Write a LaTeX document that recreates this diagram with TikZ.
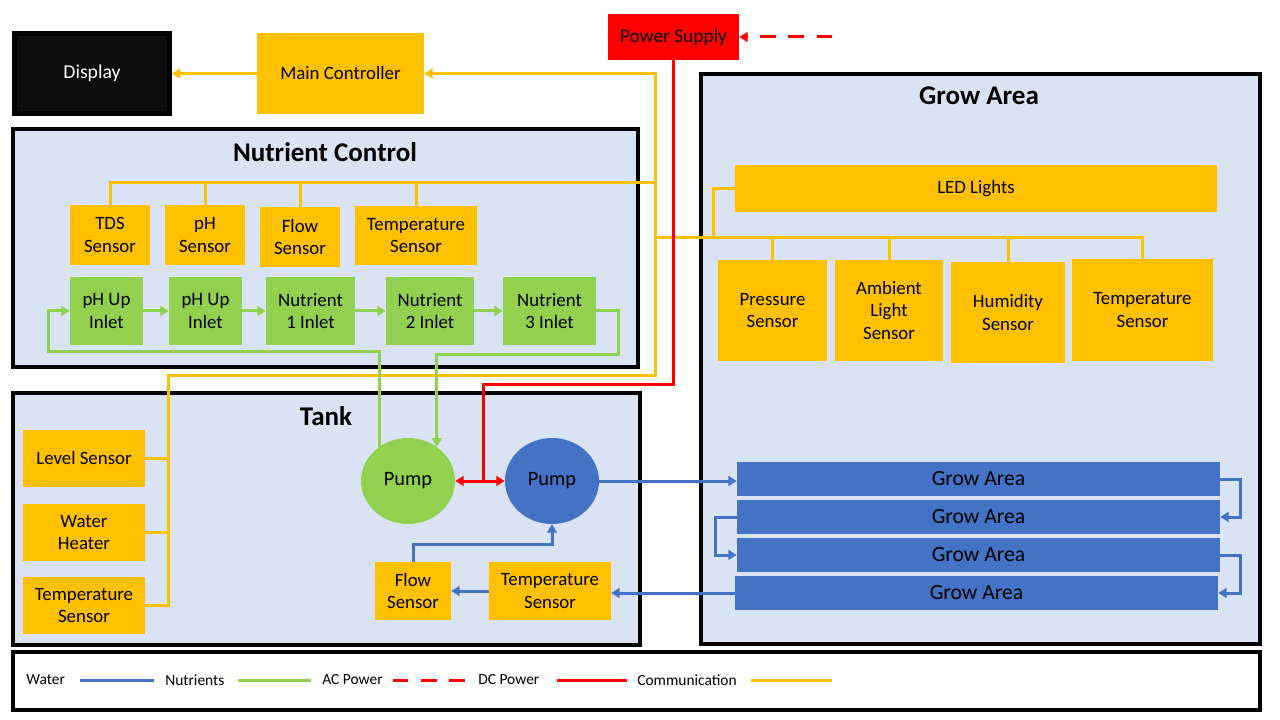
\documentclass[tikz,border=0pt]{standalone}
\usepackage{fontspec}
\setmainfont{Carlito}
\usetikzlibrary{arrows.meta,shapes.geometric}
\definecolor{commcol}{HTML}{FFC000}
\definecolor{nutcol}{HTML}{92D050}
\definecolor{watcol}{HTML}{4472C4}
\definecolor{framecol}{HTML}{DAE3F3}
\definecolor{dispcol}{HTML}{0D0D0D}
\newdimen\px \px=0.025cm
\tikzset{
  sz/.style 2 args={minimum width=#1\px, minimum height=#2\px},
  blk/.style={rectangle, inner sep=0pt, align=center, font=\fontsize{13.4}{16}\selectfont},
  ybox/.style={blk, fill=commcol},
  gbox/.style={blk, fill=nutcol},
  wbox/.style={blk, fill=watcol, font=\fontsize{15.4}{17}\selectfont},
  frame/.style={rectangle, draw=black, line width=4\px, fill=framecol},
  ftitle/.style={font=\fontsize{19.2}{21}\selectfont\bfseries},
  legtext/.style={anchor=west, inner sep=0pt, font=\fontsize{11}{13}\selectfont},
  comm/.style={draw=commcol, line width=3\px},
  nut/.style={draw=nutcol, line width=3\px},
  wat/.style={draw=watcol, line width=3\px},
  dcp/.style={draw=red, line width=3\px},
  acp/.style={draw=red, line width=3\px, dash pattern=on 11pt off 9pt}
}
\begin{document}
\begin{tikzpicture}[x=0.025cm, y=-0.025cm, >={Triangle[width=7pt,length=6pt]}]
      \useasboundingbox (0,0) rectangle (1280,720);
      % frames
      \node[frame, sz={625}{238}] (ncbox) at (325.5,248) {};
      \node[ftitle] (nctitle) at (325,152) {Nutrient Control};
      \node[frame, sz={627}{252}] (tankbox) at (326.5,519) {};
      \node[ftitle] (tanktitle) at (326,416) {Tank};
      \node[frame, sz={559}{570}] (growbox) at (980.5,359) {};
      \node[ftitle] (growtitle) at (979,96) {Grow Area};
      \node[frame, fill=white, sz={1247}{58}] (legbox) at (636.5,681) {};
      % top row
      \node[blk, draw=black, line width=5\px, fill=dispcol, text=white, font=\fontsize{14}{16}\selectfont, sz={155}{80}] (disp) at (92,73.5) {Display};
      \node[ybox, sz={167}{81}] (mainc) at (340.5,73.5) {Main Controller};
      \node[blk, fill=red, font=\fontsize{13.8}{16}\selectfont, sz={131}{46}] (psu) at (673.5,37) {Power Supply};
      % nutrient control
      \node[ybox, sz={80}{60}] (tds) at (110,235) {TDS\\Sensor};
      \node[ybox, sz={80}{60}] (ph) at (205,235) {pH\\Sensor};
      \node[ybox, sz={80}{60}] (flow) at (300,237) {Flow\\Sensor};
      \node[ybox, sz={122}{59}] (ntemp) at (416,235.5) {Temperature\\Sensor};
      \node[gbox, sz={73}{68}] (in1) at (106.5,311) {pH Up\\Inlet};
      \node[gbox, sz={73}{68}] (in2) at (205.5,311) {pH Up\\Inlet};
      \node[gbox, sz={89}{68}] (in3) at (310.5,311) {Nutrient\\1 Inlet};
      \node[gbox, sz={88}{68}] (in4) at (430,311) {Nutrient\\2 Inlet};
      \node[gbox, sz={93}{68}] (in5) at (549.5,311) {Nutrient\\3 Inlet};
      % tank
      \node[ybox, sz={122}{57}] (level) at (84,458.5) {Level Sensor};
      \node[ybox, sz={122}{57}] (heater) at (84,532.5) {Water\\Heater};
      \node[ybox, sz={122}{57}] (ttemp) at (84,605.5) {Temperature\\Sensor};
      \node[blk, ellipse, fill=nutcol, font=\fontsize{14.5}{16}\selectfont, sz={94}{86}] (gpump) at (408,481) {Pump};
      \node[blk, ellipse, fill=watcol, font=\fontsize{14.5}{16}\selectfont, sz={94}{86}] (bpump) at (552,481) {Pump};
      \node[ybox, sz={76}{58}] (tflow) at (413,591) {Flow\\Sensor};
      \node[ybox, sz={122}{58}] (ttemp2) at (550,591) {Temperature\\Sensor};
      % grow area
      \node[ybox, sz={482}{47}] (led) at (976,188.5) {LED Lights};
      \node[ybox, sz={109}{101}] (press) at (772.5,310.5) {Pressure\\Sensor};
      \node[ybox, sz={108}{101}] (amb) at (889,310.5) {Ambient\\Light\\Sensor};
      \node[ybox, sz={114}{101}] (hum) at (1008,312.5) {Humidity\\Sensor};
      \node[ybox, sz={141}{102}] (gtemp) at (1142.5,310) {Temperature\\Sensor};
      \node[wbox, sz={483}{34}] (g1) at (978.5,479) {Grow Area};
      \node[wbox, sz={483}{34}] (g2) at (978.5,517) {Grow Area};
      \node[wbox, sz={483}{34}] (g3) at (978.5,555) {Grow Area};
      \node[wbox, sz={483}{34}] (g4) at (976.5,593) {Grow Area};
      % bends
      \coordinate (tbus) at (168,376);
      \coordinate (nbus) at (655,183);
      \coordinate (gbus) at (655,238);
      \coordinate (ledj) at (713,238);
      \coordinate (pbend) at (483,385);
      \coordinate (nloop) at (48,352);
      \coordinate (nret) at (618,355);
      \coordinate (acin) at (832,37);
      \begin{scope}[comm]
        \draw[->] (mainc.west) -- (disp.east);
        \draw[->] (ttemp.east) -| (tbus) -- (tbus -| nbus) |- (mainc.east);
        \draw (level.east) -- (level.east -| tbus);
        \draw (heater.east) -- (heater.east -| tbus);
        \draw (tds.north) |- (nbus);
        \draw (ph.north) -- (ph.north |- nbus);
        \draw (flow.north) -- (flow.north |- nbus);
        \draw (ntemp.north) -- (ntemp.north |- nbus);
        \draw (gbus) -| (gtemp.north);
        \draw (press.north) -- (press.north |- gbus);
        \draw (amb.north) -- (amb.north |- gbus);
        \draw (hum.north) -- (hum.north |- gbus);
        \draw (led.west) -| (ledj);
      \end{scope}
      \begin{scope}[nut,->]
        \draw (in1.east) -- (in2.west);
        \draw (in2.east) -- (in3.west);
        \draw (in3.east) -- (in4.west);
        \draw (in4.east) -- (in5.west);
        \draw (gpump.130) |- (nloop) |- (in1.west);
        \draw (in5.east) -| (nret) -| (gpump.50);
      \end{scope}
      \begin{scope}[wat,->]
        \draw (bpump.east) -- (bpump.east -| g1.west);
        \draw (g1.east) -- ++(20,0) |- (g2.east);
        \draw (g2.west) -- ++(-21,0) |- (g3.west);
        \draw (g3.east) -- ++(20,0) |- (g4.east);
        \draw (g4.west) -- (g4.west -| ttemp2.east);
        \draw (ttemp2.west) -- (tflow.east);
        \draw (tflow.north) -- ++(0,-17) -| (bpump.south);
      \end{scope}
      \draw[dcp] (psu.south) |- (pbend) -- (pbend |- gpump.east);
      \draw[dcp,<->] (gpump.east) -- (bpump.west);
      \draw[acp,->] (acin) -- (psu.east);
      % legend
      \node[legtext] (lwat) at (26,680) {Water};
      \draw[wat] (80,680) -- (154,680);
      \node[legtext] (lnut) at (165,680) {Nutrients};
      \draw[nut] (238,680) -- (311,680);
      \node[legtext] (lac) at (322,680) {AC Power};
      \draw[acp] (393,680) -- (466,680);
      \node[legtext] (ldc) at (478,680) {DC Power};
      \draw[dcp] (557,680) -- (627,680);
      \node[legtext] (lcomm) at (637,680) {Communication};
      \draw[comm] (751,680) -- (832,680);
    \end{tikzpicture}
\end{document}
